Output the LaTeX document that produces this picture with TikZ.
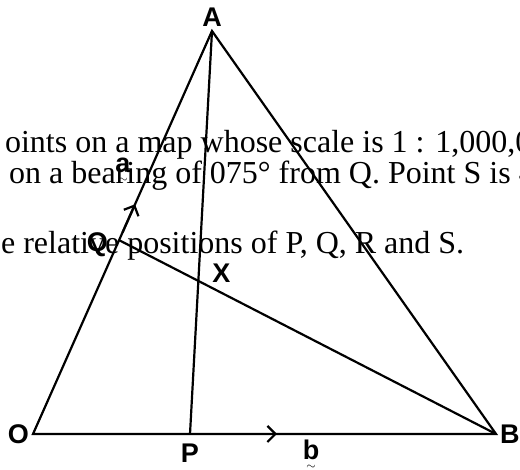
\documentclass[tikz,border=0pt]{standalone}
\usepackage{amsmath}
\usepackage{fontspec}
\setmainfont{Liberation Serif}
\setsansfont{Liberation Sans}
\usetikzlibrary{calc,arrows.meta,positioning}

% letter with a small tilde set under it
\newcommand{\undertilde}[1]{\ooalign{\textbf{#1}\cr\hidewidth\raisebox{-10pt}{\fontsize{12}{12}\selectfont$\sim$}\hidewidth\cr}}

\begin{document}
\begin{tikzpicture}[x=1pt, y=-1pt, line width=2.2pt,
  every node/.style={font=\sffamily\bfseries\fontsize{27}{30}\selectfont, inner sep=0pt},
  txt/.style={anchor=base west, font=\rmfamily\fontsize{32}{38}\selectfont},
  vec/.style={-{Straight Barb[length=8pt,width=16pt]}}]
\clip (0,0) rectangle (520,470);
% text showing through from the page behind
\node[txt] (line1) at (4,153) {oints on a map whose scale is 1 : 1,000,0};
\node[txt] (line2) at (8,184) {on a bearing of 075\textdegree{} from Q. Point S is 4};
\node[txt] (line3) at (0,254) {e relative positions of P, Q, R and S.};

\coordinate (O) at (33,434);
\coordinate (B) at (496,434);
\coordinate (A) at (212,31);
\coordinate (P) at (190,434);
\coordinate (Q) at ($(O)!0.481!(A)$);
\coordinate (X) at (intersection of P--A and Q--B);

\draw (O) -- (A) -- (B) -- cycle;
\draw (P) -- (A);
\draw (Q) -- (B);
\draw[vec] ($(O)!0.50!(A)$) -- ($(O)!0.57!(A)$);
\draw[vec] ($(O)!0.46!(B)$) -- ($(O)!0.527!(B)$);

\node[above=3pt of A] (lA) {A};
\node[left=3pt of O] (lO) {O};
\node[right=3pt of B] (lB) {B};
\node[below=9pt of P] (lP) {P};
\node[left=10pt of Q, yshift=-5pt] (lQ) {Q};
\node[above right=-3pt and 13pt of X] (lX) {X};
\node[anchor=base] (la) at (123,173) {\undertilde{a}};
\node[anchor=base] (lb) at (311,460) {\undertilde{b}};
\end{tikzpicture}
\end{document}
